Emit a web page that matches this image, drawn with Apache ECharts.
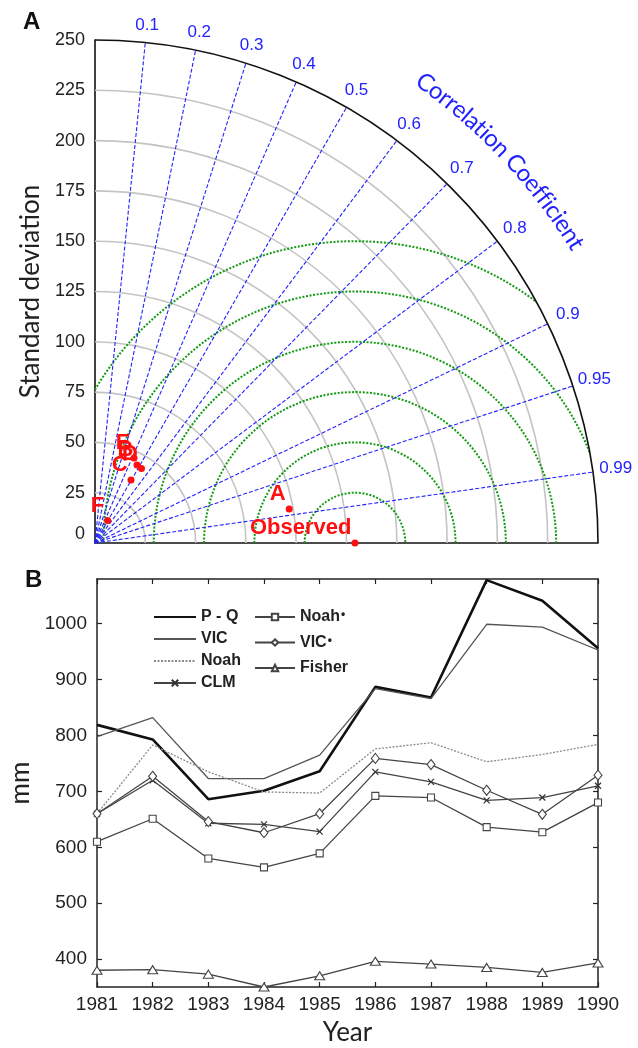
<!DOCTYPE html>
<html><head><meta charset="utf-8">
<script src="https://cdn.jsdelivr.net/npm/echarts@6/dist/echarts.min.js"></script>
<style>html,body{margin:0;padding:0;background:#fff}#main{width:638px;height:1048px}</style>
</head><body><div id="main"></div>
<script>
// ---------- Panel A: Taylor diagram ----------
const SD_MAX = 250;
const sdTicks = [0, 25, 50, 75, 100, 125, 150, 175, 200, 225, 250];
const sdArcs = [25, 50, 75, 100, 125, 150, 175, 200, 225];
const corrTicks = [0.1, 0.2, 0.3, 0.4, 0.5, 0.6, 0.7, 0.8, 0.9, 0.95, 0.99];
const rmsArcs = [25, 50, 75, 100, 125, 150];
const obsStd = 129.2;
const pointNames = ['A', 'B', 'C', 'D', 'E', 'F', 'Observed'];
const pointStd = [98.0, 44.0, 36.1, 43.6, 46.5, 12.8, 129.2];
const pointCorr = [0.985, 0.474, 0.496, 0.53, 0.417, 0.49, 1.0];

// ---------- Panel B: annual series ----------
const years = ['1981','1982','1983','1984','1985','1986','1987','1988','1989','1990'];
const pq     = [819, 793, 686, 701, 736, 887, 868, 1078, 1041, 956];
const vic    = [798, 832, 723, 723, 765, 884, 866, 999, 994, 953];
const noah   = [660, 783, 735, 699, 697, 776, 787, 753, 766, 784];
const clm    = [660, 720, 643, 641, 628, 735, 717, 684, 689, 710];
const noahS  = [610, 651, 580, 564, 589, 692, 689, 636, 627, 680];
const vicS   = [660, 727, 646, 626, 660, 759, 748, 702, 659, 729];
const fisher = [380, 381, 373, 350, 370, 396, 391, 385, 376, 393];
const mmTicks = [400, 500, 600, 700, 800, 900, 1000];

const chart = echarts.init(document.getElementById('main'), null, {renderer: 'canvas'});
const BLUE = '#2222ff', GREEN = '#139a13', RED = '#ff0f0f';
const tickFont = 'Liberation Sans';

const ctx = document.createElement('canvas').getContext('2d');
const TITLE_FONT = '24px Lato';
ctx.font = TITLE_FONT;

function grayArcs(params, api) {
  const r = api.value(0);
  const o = api.coord([0, 0]);
  const pr = api.size([r, 0])[0];
  return {type: 'arc', shape: {cx: o[0], cy: o[1], r: pr, startAngle: -Math.PI / 2, endAngle: 0, clockwise: true},
    style: {stroke: '#c4c4c4', lineWidth: 1.6, fill: null}};
}
function outerArc(params, api) {
  const r = api.value(0);
  const o = api.coord([0, 0]);
  const pr = api.size([r, 0])[0];
  return {type: 'arc', shape: {cx: o[0], cy: o[1], r: pr, startAngle: -Math.PI / 2, endAngle: 0, clockwise: true},
    style: {stroke: '#111', lineWidth: 1.6, fill: null}};
}
function rmsRender(params, api) {
  const rr = api.value(0);
  const c = api.coord([obsStd, 0]);
  const pr = api.size([rr, 0])[0];
  let phiMin = 0, phiMax = Math.PI;
  const cosOut = (SD_MAX * SD_MAX - obsStd * obsStd - rr * rr) / (2 * obsStd * rr);
  if (cosOut < 1) phiMin = Math.acos(Math.max(-1, cosOut));
  if (rr > obsStd) phiMax = Math.acos(-obsStd / rr);
  return {type: 'arc', shape: {cx: c[0], cy: c[1], r: pr, startAngle: -phiMax, endAngle: -phiMin, clockwise: true},
    style: {stroke: GREEN, lineWidth: 2, lineDash: [2, 1.6], fill: null}};
}
function corrRender(params, api) {
  const cval = api.value(0);
  const s = Math.sqrt(1 - cval * cval);
  const o = api.coord([0, 0]);
  const R = api.size([SD_MAX, 0])[0];
  const d = 17 + 6 * cval;
  return {type: 'group', children: [
    {type: 'line', shape: {x1: o[0], y1: o[1], x2: o[0] + R * cval, y2: o[1] - R * s},
      style: {stroke: BLUE, lineWidth: 1.1, lineDash: [4, 2]}},
    {type: 'text', x: o[0] + (R + d) * cval, y: o[1] - (R + d) * s,
      style: {text: String(cval), fill: BLUE, font: '17px "Liberation Sans"', align: 'center', verticalAlign: 'middle'}}
  ]};
}
function corrTitle(params, api) {
  const text = 'Correlation Coefficient';
  const o = api.coord([0, 0]);
  const R = api.size([SD_MAX, 0])[0] * 1.126;
  const widths = Array.from(text).map(ch => ctx.measureText(ch).width * 0.97);
  const total = widths.reduce((a, b) => a + b, 0);
  const mid = 43.3 * Math.PI / 180;
  let start = mid + (total / 2) / R;
  let cum = 0;
  const children = [];
  Array.from(text).forEach((ch, i) => {
    const th = start - (cum + widths[i] / 2) / R;
    cum += widths[i];
    children.push({type: 'text', x: o[0] + R * Math.cos(th), y: o[1] - R * Math.sin(th), rotation: th - Math.PI / 2,
      style: {text: ch, fill: BLUE, font: TITLE_FONT, align: 'center', verticalAlign: 'middle'}});
  });
  return {type: 'group', children};
}

const points = pointNames.map((n, i) => {
  const c = pointCorr[i], s = pointStd[i];
  return {name: n, value: [s * c, s * Math.sqrt(1 - c * c)]};
});

const xSym = 'path://M0,0L10,10M0,10L10,0';
const lineBase = (name, data, color, width, extra) => Object.assign({
  name, type: 'line', xAxisIndex: 1, yAxisIndex: 1, data, symbol: 'none',
  lineStyle: {color, width}, itemStyle: {color}, emphasis: {disabled: true}, animation: false
}, extra || {});
const noMarker = {color: 'transparent', borderWidth: 0, opacity: 0};
const legendText = {fontSize: 16, fontWeight: 'bold', fontFamily: tickFont, color: '#222', lineHeight: 16};

const option = {
  animation: false,
  backgroundColor: '#fff',
  title: [
    {text: 'A', left: 23, top: 10, padding: 0, textStyle: {fontSize: 24, fontWeight: 'bold', color: '#111', fontFamily: tickFont}},
    {text: 'B', left: 25, top: 568, padding: 0, textStyle: {fontSize: 24, fontWeight: 'bold', color: '#111', fontFamily: tickFont}}
  ],
  grid: [
    {left: 95, top: 40, width: 503, height: 503, outerBoundsMode: 'none'},
    {left: 97, top: 579, width: 501, height: 408, outerBoundsMode: 'none'}
  ],
  legend: [
    {data: [{name: 'P - Q', itemStyle: noMarker}, {name: 'VIC', itemStyle: noMarker}, {name: 'Noah', itemStyle: noMarker}, 'CLM'],
      orient: 'vertical', left: 153, top: 609, padding: 0, itemWidth: 42, itemHeight: 8, itemGap: 6,
      selectedMode: false, textStyle: legendText},
    {data: ['Noah*', 'VIC*', 'Fisher'], orient: 'vertical', left: 254, top: 609, padding: 0, itemWidth: 40, itemHeight: 8, itemGap: 9.5,
      selectedMode: false,
      formatter: n => n.indexOf('*') >= 0 ? '{a|' + n.replace('*', '') + '}{s|•}' : '{a|' + n + '}',
      textStyle: Object.assign({}, legendText, {
        rich: {
          a: {fontSize: 16, fontWeight: 'bold', fontFamily: tickFont, color: '#222', lineHeight: 16, verticalAlign: 'bottom'},
          s: {fontSize: 12, fontWeight: 'bold', fontFamily: tickFont, color: '#222', lineHeight: 7, verticalAlign: 'top', padding: [0, 0, 0, 1]}
        }})}
  ],
  xAxis: [
    {gridIndex: 0, type: 'value', min: 0, max: SD_MAX, interval: 25,
      axisLine: {show: true, lineStyle: {color: '#111', width: 1.6}}, axisTick: {show: false}, axisLabel: {show: false}, splitLine: {show: false}},
    {gridIndex: 1, type: 'category', data: years, boundaryGap: false,
      axisLine: {lineStyle: {color: '#222', width: 1.5}}, axisTick: {inside: true, length: 5, lineStyle: {color: '#222', width: 1.2}},
      axisLabel: {fontSize: 19, color: '#222', fontFamily: tickFont, margin: 8},
      name: 'Year', nameLocation: 'middle', nameGap: 33, nameTextStyle: {fontSize: 26, fontFamily: 'Lato', color: '#222'}},
    {gridIndex: 1, type: 'category', data: years, boundaryGap: false, position: 'top',
      axisLine: {lineStyle: {color: '#222', width: 1.5}}, axisTick: {inside: true, length: 5, lineStyle: {color: '#222', width: 1.2}},
      axisLabel: {show: false}}
  ],
  yAxis: [
    {gridIndex: 0, type: 'value', min: 0, max: SD_MAX, interval: 25,
      axisLine: {show: true, lineStyle: {color: '#111', width: 1.6}}, axisTick: {show: false},
      axisLabel: {fontSize: 18, color: '#222', fontFamily: tickFont, margin: 10,
        formatter: v => v === 0 ? '{z|0}' : String(v),
        rich: {z: {fontSize: 18, color: '#222', fontFamily: tickFont, padding: [0, 0, 18, 0]}}},
      splitLine: {show: false},
      name: 'Standard deviation', nameLocation: 'middle', nameGap: 50, nameRotate: 90,
      nameTextStyle: {fontSize: 26, fontFamily: 'Lato', color: '#222'}},
    {gridIndex: 1, type: 'value', min: 350, max: 1080,
      axisLine: {show: true, lineStyle: {color: '#222', width: 1.5}},
      axisTick: {show: true, inside: true, length: 5, customValues: mmTicks, lineStyle: {color: '#222', width: 1.2}},
      axisLabel: {fontSize: 19, color: '#222', fontFamily: tickFont, margin: 10, customValues: mmTicks, formatter: v => String(v)},
      splitLine: {show: false},
      name: 'mm', nameLocation: 'middle', nameGap: 62, nameRotate: 90,
      nameTextStyle: {fontSize: 26, fontFamily: 'Lato', color: '#222'}},
    {gridIndex: 1, type: 'value', min: 350, max: 1080, position: 'right',
      axisLine: {show: true, lineStyle: {color: '#222', width: 1.5}},
      axisTick: {show: true, inside: true, length: 5, customValues: mmTicks, lineStyle: {color: '#222', width: 1.2}},
      axisLabel: {show: false}, splitLine: {show: false}}
  ],
  series: [
    {type: 'custom', xAxisIndex: 0, yAxisIndex: 0, z: 1, data: sdArcs.map(r => [r, 0]), renderItem: grayArcs, silent: true, clip: false},
    {type: 'custom', xAxisIndex: 0, yAxisIndex: 0, z: 2, data: rmsArcs.map(r => [r, 0]), renderItem: rmsRender, silent: true, clip: false},
    {type: 'custom', xAxisIndex: 0, yAxisIndex: 0, z: 3, data: corrTicks.map(c => [c, 0]), renderItem: corrRender, silent: true, clip: false},
    {type: 'custom', xAxisIndex: 0, yAxisIndex: 0, z: 3, data: [[0, 0]], renderItem: corrTitle, silent: true, clip: false},
    {type: 'custom', xAxisIndex: 0, yAxisIndex: 0, z: 4, data: [[SD_MAX, 0]], renderItem: outerArc, silent: true, clip: false},
    {type: 'scatter', xAxisIndex: 0, yAxisIndex: 0, z: 5, data: points, symbolSize: 7, itemStyle: {color: RED, opacity: 1},
      label: {show: true, formatter: '{b}', position: 'left', distance: 0, offset: [0, -15],
        color: RED, fontSize: 22, fontWeight: 'bold', fontFamily: tickFont}, emphasis: {disabled: true}},

    lineBase('P - Q', pq, '#111', 2.6),
    lineBase('VIC', vic, '#555', 1.3),
    lineBase('Noah', noah, '#8a8a8a', 1.3, {lineStyle: {color: '#8a8a8a', width: 1.3, type: [2, 1.5]}}),
    lineBase('CLM', clm, '#444', 1.3, {symbol: xSym, symbolSize: 6, symbolKeepAspect: true,
      itemStyle: {color: 'none', borderColor: '#333', borderWidth: 1.2}}),
    lineBase('Noah*', noahS, '#444', 1.3, {symbol: 'rect', symbolSize: 7,
      itemStyle: {color: '#fff', borderColor: '#444', borderWidth: 1.1}}),
    lineBase('VIC*', vicS, '#444', 1.3, {symbol: 'diamond', symbolSize: [8, 10],
      itemStyle: {color: '#fff', borderColor: '#444', borderWidth: 1.1}}),
    lineBase('Fisher', fisher, '#444', 1.3, {symbol: 'triangle', symbolSize: [10, 8],
      itemStyle: {color: '#fff', borderColor: '#444', borderWidth: 1.1}})
  ]
};
chart.setOption(option);
</script></body></html>
